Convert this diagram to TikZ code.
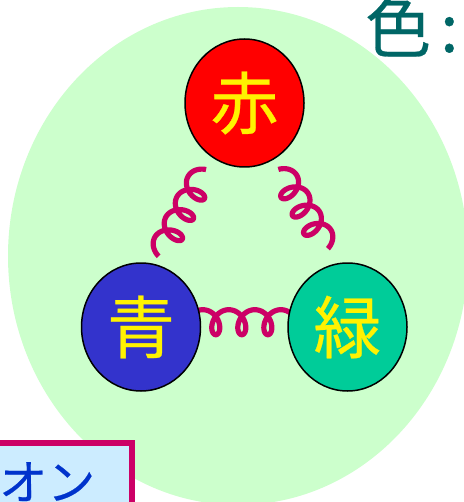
\documentclass[tikz,border=0pt]{standalone}
\usepackage{fontspec}
\newfontfamily\jp[FakeBold=0.4]{Noto Sans CJK JP}
\usetikzlibrary{shapes.geometric,calc}
\definecolor{bagfill}{HTML}{CCFFCC}
\definecolor{quarkred}{HTML}{FF0000}
\definecolor{quarkblue}{HTML}{3333CC}
\definecolor{quarkgreen}{HTML}{00CC99}
\definecolor{gluoncol}{HTML}{CC0066}
\definecolor{titlecol}{HTML}{006666}
\definecolor{boxfill}{HTML}{CCECFF}
\definecolor{boxtext}{HTML}{0033CC}
\pgfdeclarelayer{bag}
\pgfdeclarelayer{springs}
\pgfsetlayers{bag,springs,main}
\tikzset{
  quark/.style={ellipse, draw=black, line width=1.5pt, minimum width=119pt,
    minimum height=128pt, inner sep=0pt, text=yellow,
    font=\jp\fontsize{68}{68}\selectfont},
  gluon/.style={draw=gluoncol, line width=5.2pt, line join=round},
}
% Curly gluon line with three turns from #1 to #2.
% #3: side of the arcs (+1 left, -1 right of the direction of travel),
% #4: phase at both ends, #5: loop half-width, #6: coil amplitude.
\newcommand\gluonspring[6]{%
  \draw[gluon] let \p1=(#1), \p2=(#2),
      \n1={atan2(\y2-\y1,\x2-\x1)}, \n2={veclen(\x2-\x1,\y2-\y1)} in
    [shift={(\p1)}, rotate=\n1]
    plot[variable=\t, domain={-#4}:{6*pi+#4}, samples=400]
    ({(\n2-2*#5*sin(#4 r))/(6*pi+2*#4)*(\t+#4)+#5*(sin(\t r)+sin(#4 r))},
     {-#3*#6*(cos(\t r)-cos(#4 r))});
}
\begin{document}
\begin{tikzpicture}[x=1pt,y=-1pt]
\useasboundingbox (0,0) rectangle (463,502);
\clip (0,0) rectangle (463,502);
% colour bag
\begin{pgfonlayer}{bag}
\fill[bagfill] (238,256) ellipse [x radius=230, y radius=249];
\end{pgfonlayer}
% heading
\node[anchor=base west, inner sep=0pt, text=titlecol,
  font=\jp\fontsize{66}{66}\selectfont] (title) at (365,52) {色\hspace{9pt}:};
% quarks
\node[quark, fill=quarkred]   (red)   at (244.5,103) {赤};
\node[quark, fill=quarkblue]  (blue)  at (141,327)   {青};
\node[quark, fill=quarkgreen] (green) at (347.5,327) {緑};
% gluons, drawn beneath the quarks
\begin{pgfonlayer}{springs}
\gluonspring{$(red.center)!1.21!(red.240)$}{$(blue.center)!1.13!(blue.76)$}{-1}{1.5708}{9}{12.5}
\gluonspring{$(red.center)!1.17!(red.297)$}{$(green.center)!1.25!(green.104)$}{1}{1.5708}{9}{12.5}
\gluonspring{$(blue.12)+(-8.6,0)$}{$(green.168)+(3.7,0)$}{1}{0.9}{9.6}{12.5}
\end{pgfonlayer}
% label box
\node[anchor=north west, draw=gluoncol, line width=6pt, fill=boxfill,
  minimum width=160pt, minimum height=80pt, inner sep=0pt] (box) at (-31.3,439.7) {};
\node[anchor=north west, inner sep=0pt, text=boxtext,
  font=\jp\fontsize{48}{48}\selectfont] (boxlabel) at (-1,462) {オン};
\end{tikzpicture}
\end{document}
